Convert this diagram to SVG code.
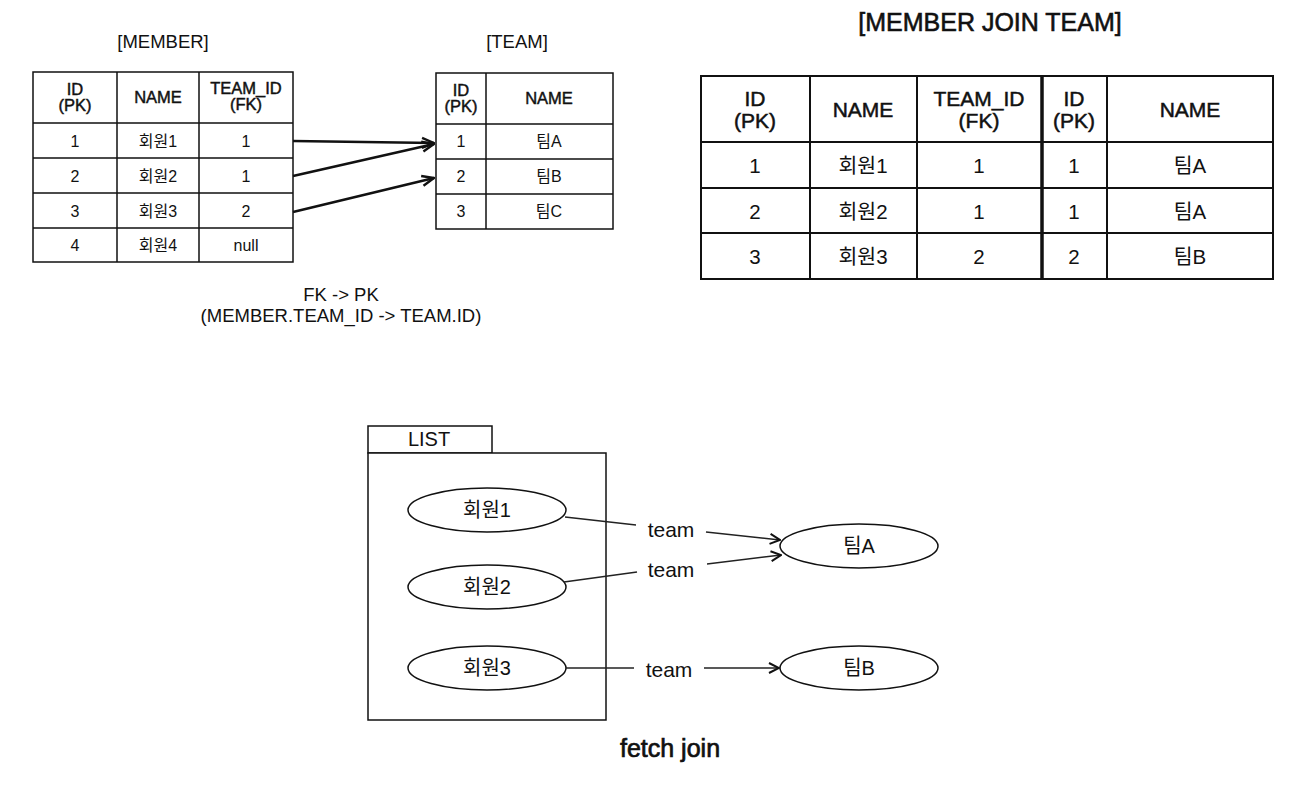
<svg xmlns="http://www.w3.org/2000/svg" width="1290" height="800" viewBox="0 0 1290 800">
<style>
text{font-family:"Liberation Sans","Noto Sans CJK KR",sans-serif;fill:#111;text-anchor:middle;dominant-baseline:central}
.s{font-size:16px}
.h{font-size:16.5px;stroke:#111;stroke-width:0.45}
.m{font-size:20.5px}
.mh{font-size:21px;stroke:#111;stroke-width:0.5}
.lbl{font-size:18.5px}
.note{font-size:18.5px}
.big{font-size:20px}
.cell{fill:#fff;stroke:#111;stroke-width:1.5}
.ln{stroke:#111;stroke-width:1.5;fill:none}
.fk{stroke:#111;stroke-width:2.6;fill:none}
.el{fill:#fff;stroke:#111;stroke-width:1.5}
.cn{stroke:#222;stroke-width:1.5;fill:none}
</style>
<defs>
<marker id="ah" viewBox="0 0 12 12" refX="11" refY="6" markerWidth="12" markerHeight="12" markerUnits="userSpaceOnUse" orient="auto">
<path d="M1,1 L11,6 L1,11" fill="none" stroke="#111" stroke-width="2"/>
</marker>
<marker id="ah2" viewBox="0 0 14 14" refX="13" refY="7" markerWidth="14" markerHeight="14" markerUnits="userSpaceOnUse" orient="auto">
<path d="M1,2 L13,7 L1,12" fill="none" stroke="#111" stroke-width="2.4"/>
</marker>
</defs>
<rect width="1290" height="800" fill="#fff"/>

<g id="member-table">
<text x="163" y="41" class="lbl">[MEMBER]</text>
<rect x="33" y="72" width="260" height="190" class="cell"/>
<path class="ln" d="M117,72V262M199,72V262M33,123H293M33,158H293M33,193H293M33,228H293"/>
<text x="75" y="89" class="h">ID</text><text x="75" y="105" class="h">(PK)</text>
<text x="158" y="97" class="h">NAME</text>
<text x="246" y="88" class="h">TEAM_ID</text><text x="246" y="104" class="h">(FK)</text>
<text x="75" y="141" class="s">1</text><text x="158" y="141" class="s">회원1</text><text x="246" y="141" class="s">1</text>
<text x="75" y="176" class="s">2</text><text x="158" y="176" class="s">회원2</text><text x="246" y="176" class="s">1</text>
<text x="75" y="211" class="s">3</text><text x="158" y="211" class="s">회원3</text><text x="246" y="211" class="s">2</text>
<text x="75" y="245" class="s">4</text><text x="158" y="245" class="s">회원4</text><text x="246" y="245" class="s">null</text>
</g>

<g id="team-table">
<text x="517" y="41" class="lbl">[TEAM]</text>
<rect x="436" y="73" width="177" height="156" class="cell"/>
<path class="ln" d="M486,73V229M436,124H613M436,159H613M436,194H613"/>
<text x="461" y="90" class="h">ID</text><text x="461" y="106" class="h">(PK)</text>
<text x="549" y="98" class="h">NAME</text>
<text x="461" y="141" class="s">1</text><text x="549" y="141" class="s">팀A</text>
<text x="461" y="176" class="s">2</text><text x="549" y="176" class="s">팀B</text>
<text x="461" y="211" class="s">3</text><text x="549" y="211" class="s">팀C</text>
</g>

<g id="fk-note">
<text x="341" y="294" class="note">FK -&gt; PK</text>
<text x="341" y="315" class="note">(MEMBER.TEAM_ID -&gt; TEAM.ID)</text>
</g>

<g id="join-table">
<text x="990" y="22" style="font-size:25px;stroke:#111;stroke-width:0.6">[MEMBER JOIN TEAM]</text>
<rect x="701" y="76" width="572" height="203" fill="#fff" stroke="#111" stroke-width="2"/>
<path class="ln" d="M810,76V279M917,76V279M1107,76V279M701,142H1273M701,188H1273M701,233H1273" style="stroke-width:2"/>
<path d="M1042,76V279" stroke="#111" stroke-width="3.5"/>
<text x="755" y="98" class="mh">ID</text><text x="755" y="120" class="mh">(PK)</text>
<text x="863" y="109" class="mh">NAME</text>
<text x="979" y="98" class="mh">TEAM_ID</text><text x="979" y="120" class="mh">(FK)</text>
<text x="1074" y="98" class="mh">ID</text><text x="1074" y="120" class="mh">(PK)</text>
<text x="1190" y="109" class="mh">NAME</text>
<text x="755" y="165" class="m">1</text><text x="863" y="165" class="m">회원1</text><text x="979" y="165" class="m">1</text><text x="1074" y="165" class="m">1</text><text x="1190" y="165" class="m">팀A</text>
<text x="755" y="211" class="m">2</text><text x="863" y="211" class="m">회원2</text><text x="979" y="211" class="m">1</text><text x="1074" y="211" class="m">1</text><text x="1190" y="211" class="m">팀A</text>
<text x="755" y="256" class="m">3</text><text x="863" y="256" class="m">회원3</text><text x="979" y="256" class="m">2</text><text x="1074" y="256" class="m">2</text><text x="1190" y="256" class="m">팀B</text>
</g>

<g id="list">
<rect x="368" y="426" width="124" height="27" class="cell"/>
<text x="429" y="439" class="big">LIST</text>
<rect x="368" y="453" width="238" height="267" class="cell"/>
</g>
<g id="m1"><ellipse cx="487" cy="510" rx="79" ry="22" class="el"/><text x="487" y="510" class="big">회원1</text></g>
<g id="m2"><ellipse cx="487" cy="587" rx="79" ry="22" class="el"/><text x="487" y="587" class="big">회원2</text></g>
<g id="m3"><ellipse cx="487" cy="668" rx="79" ry="22" class="el"/><text x="487" y="668" class="big">회원3</text></g>
<g id="tA"><ellipse cx="859" cy="546" rx="79" ry="22" class="el"/><text x="859" y="546" class="big">팀A</text></g>
<g id="tB"><ellipse cx="859" cy="668" rx="79" ry="22" class="el"/><text x="859" y="668" class="big">팀B</text></g>

<g id="connectors">
<path class="fk" d="M293,141L434,143" marker-end="url(#ah2)"/>
<path class="fk" d="M293,176L434,144" marker-end="url(#ah2)"/>
<path class="fk" d="M293,212L434,178" marker-end="url(#ah2)"/>
<path class="cn" d="M565,517L636,525"/>
<path class="cn" d="M706,532L780,540" marker-end="url(#ah)"/>
<path class="cn" d="M564,582L637,572"/>
<path class="cn" d="M707,564L781,555" marker-end="url(#ah)"/>
<path class="cn" d="M566,668L634,668"/>
<path class="cn" d="M704,668L779,668" marker-end="url(#ah)"/>
<text x="671" y="529" style="font-size:21px">team</text>
<text x="671" y="569" style="font-size:21px">team</text>
<text x="669" y="669" style="font-size:21px">team</text>
</g>

<text x="670" y="748" style="font-size:25px;stroke:#111;stroke-width:0.7">fetch join</text>
</svg>
